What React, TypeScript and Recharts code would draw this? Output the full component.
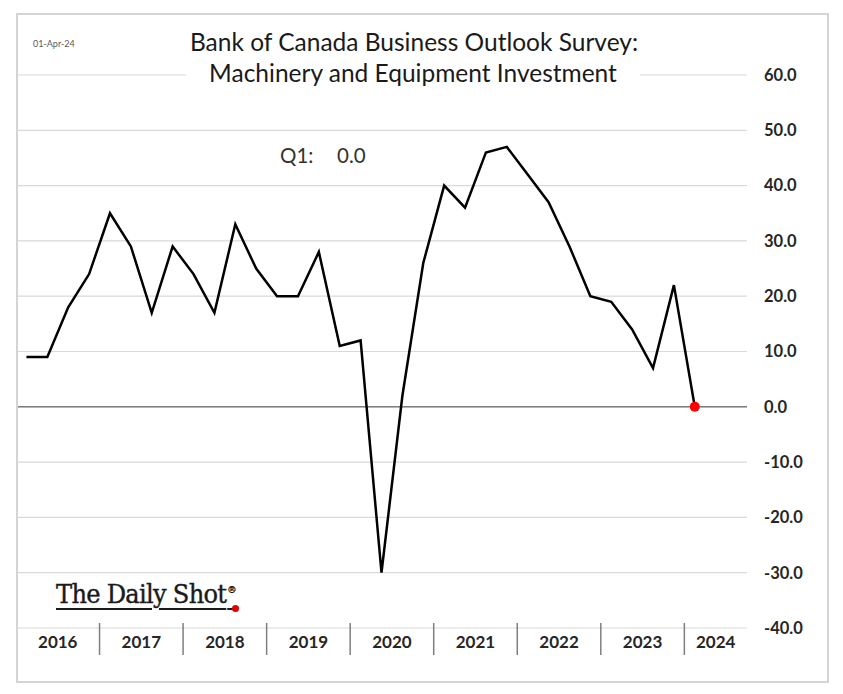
import React from "react";
import {
  CartesianGrid,
  Line,
  LineChart,
  ReferenceLine,
  XAxis,
  YAxis,
} from "recharts";

const years = ["2016", "2017", "2018", "2019", "2020", "2021", "2022", "2023", "2024"];
const quarters = ["Q1", "Q2", "Q3", "Q4"];

// balance of opinion, 2016Q1 .. 2024Q1
const values = [
  9, 9, 18, 24,
  35, 29, 17, 29,
  24, 17, 33, 25,
  20, 20, 28, 11,
  12, -30, 2, 26,
  40, 36, 46, 47,
  42, 37, 29, 20,
  19, 14, 7, 22,
  0,
];

const yTicks = [-40, -30, -20, -10, 0, 10, 20, 30, 40, 50, 60];

// axis runs to 2024Q3, data stops at 2024Q1
const data = years.flatMap((y) =>
  quarters
    .filter((q) => !(y === "2024" && q === "Q4"))
    .map((q) => ({ q: `${y}${q}`, year: y, quarter: q }))
).map((row, i) => ({ ...row, value: i < values.length ? values[i] : null }));

const W = 843;
const H = 694;
const PLOT_LEFT = 16;
const Y_AXIS_W = 96;
const HALF_BAND = (W - PLOT_LEFT - Y_AXIS_W) / data.length / 2;
const FONT = "Lato, 'Open Sans', sans-serif";

function YearTick(props: any) {
  const { x, y, payload } = props;
  const row = data[payload.index] ?? data.find((d) => d.q === payload.value);
  if (!row) return <g />;
  const isLastYear = row.year === years[years.length - 1];
  return (
    <g>
      {row.quarter === "Q1" && row.year !== years[0] && (
        <line x1={x - HALF_BAND} x2={x - HALF_BAND} y1={y - 5} y2={y + 27} stroke="#7f7f7f" strokeWidth={1.5} />
      )}
      {row.quarter === "Q2" && (
        <text
          x={isLastYear ? x : x + HALF_BAND}
          y={y + 16}
          textAnchor="middle"
          dominantBaseline="middle"
          fontFamily={FONT}
          fontWeight={700}
          fontSize={17}
          fill="#262626"
        >
          {row.year}
        </text>
      )}
    </g>
  );
}

function EndDot(props: any) {
  const { cx, cy, index } = props;
  if (index !== values.length - 1 || cx == null || cy == null) return <g key={`d${index}`} />;
  return <circle key={`d${index}`} cx={cx} cy={cy} r={5} fill="#ff0000" stroke="none" />;
}

export default function App() {
  return (
    <div style={{ position: "absolute", left: 0, top: 0, width: W, height: H, background: "#fff", fontFamily: FONT }}>
      <LineChart width={W} height={H} data={data} margin={{ top: 75, right: 0, left: PLOT_LEFT, bottom: 0 }}>
        <CartesianGrid vertical={false} stroke="#d9d9d9" strokeWidth={1.2} />
        <XAxis
          dataKey="q"
          type="category"
          scale="point"
          interval={0}
          padding={{ left: HALF_BAND, right: HALF_BAND }}
          axisLine={false}
          tickLine={false}
          tickSize={0}
          tickMargin={0}
          height={66}
          tick={<YearTick />}
        />
        <YAxis
          orientation="right"
          width={Y_AXIS_W}
          domain={[-40, 60]}
          ticks={yTicks}
          interval={0}
          axisLine={false}
          tickLine={false}
          tickSize={0}
          tickMargin={17}
          tickFormatter={(v: number) => v.toFixed(1)}
          tick={{ fontFamily: FONT, fontWeight: 700, fontSize: 16.5, fill: "#262626", textAnchor: "start" }}
        />
        <ReferenceLine y={0} stroke="#7f7f7f" strokeWidth={1.5} />
        <Line
          type="linear"
          dataKey="value"
          stroke="#000"
          strokeWidth={2.5}
          dot={<EndDot />}
          activeDot={false}
          isAnimationActive={false}
        />
      </LineChart>

      {/* frame */}
      <div style={{ position: "absolute", left: 16, top: 13, width: 813, height: 670, border: "2px solid #d4d4d4", boxSizing: "border-box", pointerEvents: "none" }} />

      <div style={{ position: "absolute", left: 33, top: 38, fontSize: 9, color: "#595959" }}>01-Apr-24</div>

      <div style={{ position: "absolute", left: 0, width: 828, top: 26, textAlign: "center", fontSize: 24.5, color: "#1a1a1a", lineHeight: "32px" }}>
        Bank of Canada Business Outlook Survey:
      </div>
      <div style={{ position: "absolute", left: 186, width: 454, top: 57, textAlign: "center", fontSize: 24.5, color: "#1a1a1a", lineHeight: "32px", background: "#fff" }}>
        Machinery and Equipment Investment
      </div>

      <div style={{ position: "absolute", left: 280, top: 141, fontSize: 20.5, color: "#333", lineHeight: "28px" }}>Q1:</div>
      <div style={{ position: "absolute", left: 337, top: 141, fontSize: 20.5, color: "#333", lineHeight: "28px" }}>0.0</div>

      <div style={{ position: "absolute", left: 56, top: 574, fontFamily: "'DejaVu Serif', serif", fontSize: 26, lineHeight: "32px", color: "#1a1a1a", whiteSpace: "nowrap", transform: "scaleX(0.93)", transformOrigin: "left top", textDecoration: "underline", textDecorationThickness: 2, textUnderlineOffset: 5, letterSpacing: -0.8, WebkitTextStroke: "0.4px #1a1a1a" }}>
        The Daily Shot<sup style={{ fontSize: 10, textDecoration: "none", marginLeft: 1 }}>®</sup>
      </div>
      <div style={{ position: "absolute", left: 232, top: 605, width: 7, height: 7, borderRadius: 4, background: "#e00000" }} />
    </div>
  );
}
